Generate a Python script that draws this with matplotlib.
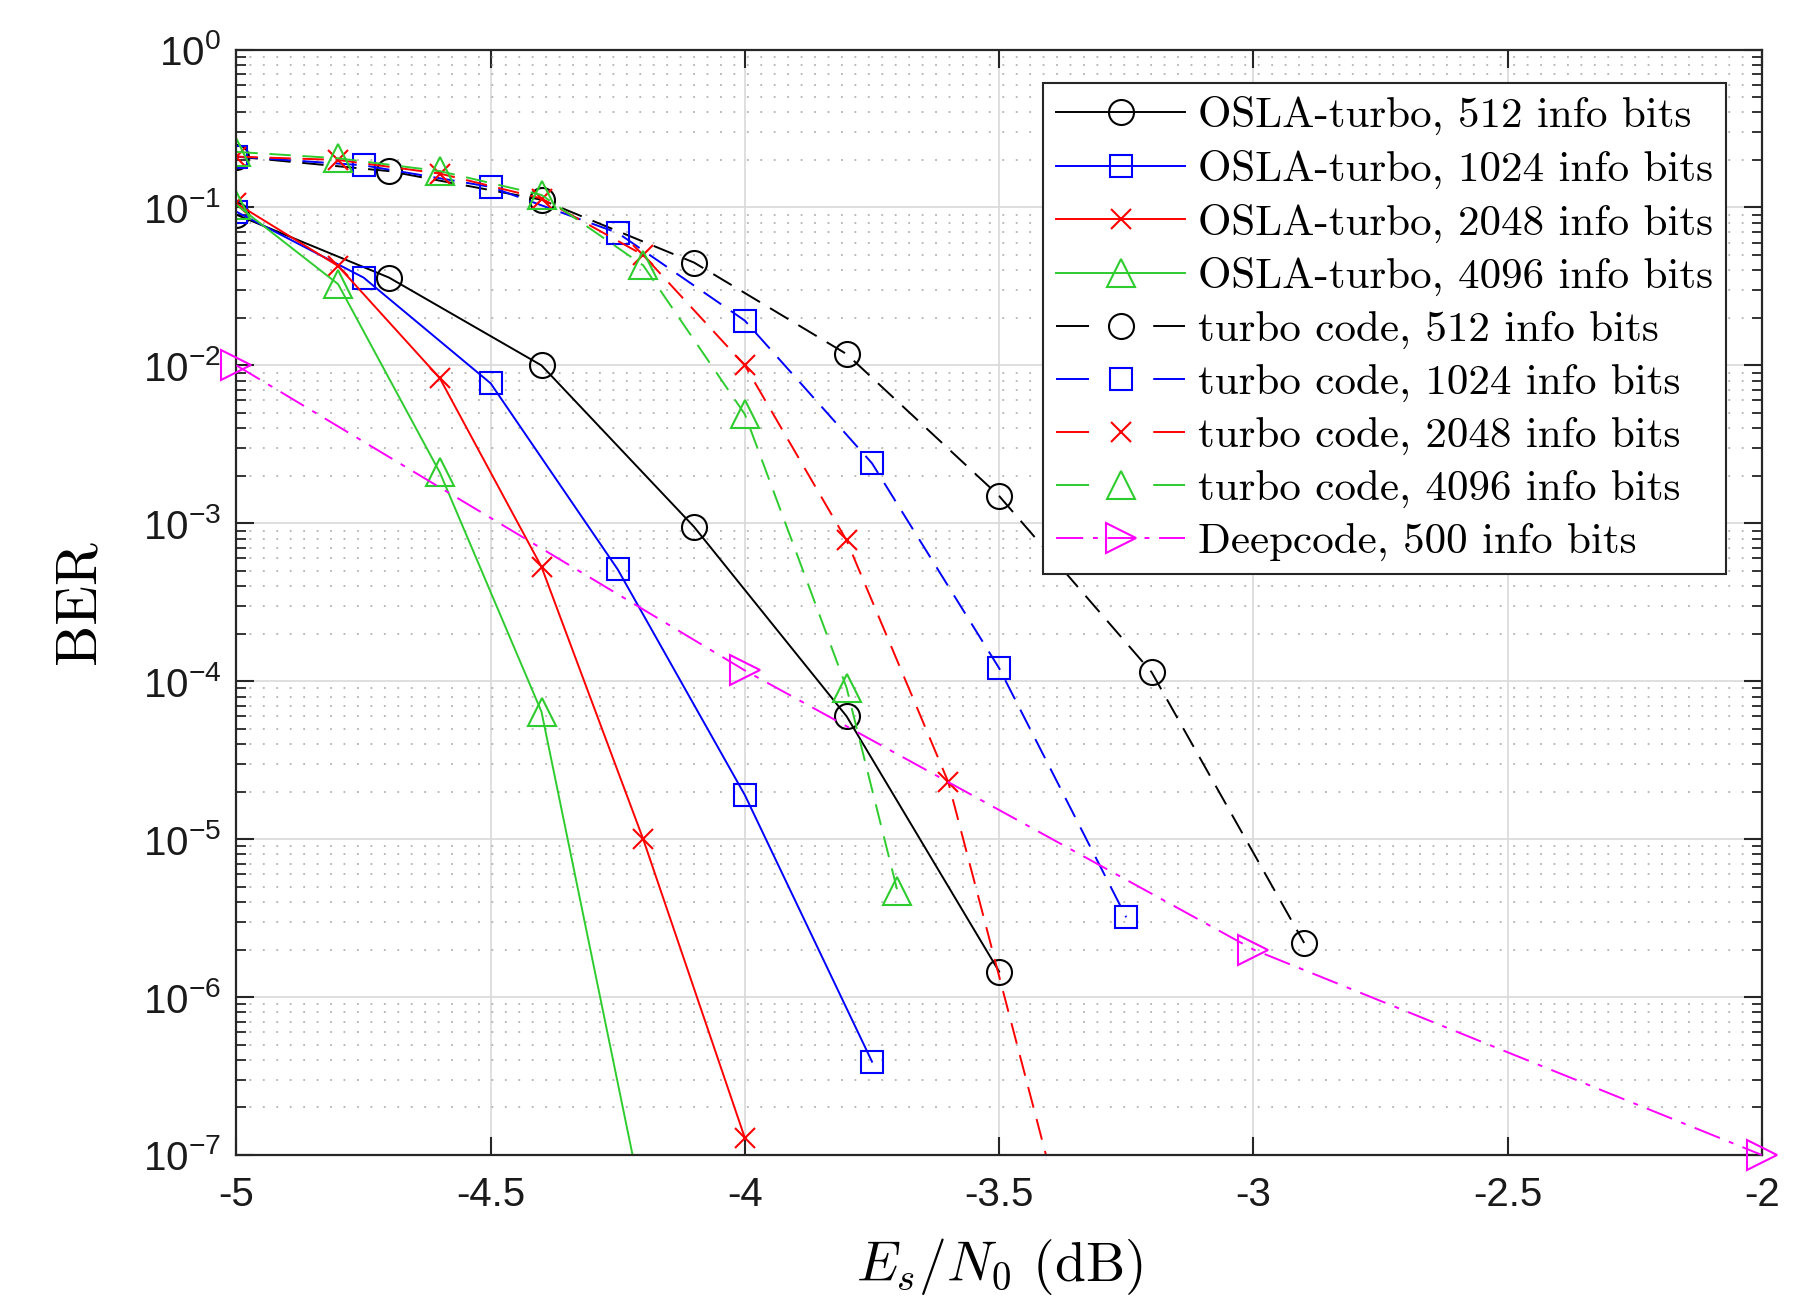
import numpy as np
import matplotlib
matplotlib.use("Agg")
import matplotlib.pyplot as plt
from matplotlib import ticker
from matplotlib.font_manager import FontProperties
from matplotlib.legend_handler import HandlerLine2D

plt.rcParams['axes.unicode_minus'] = False

# ---- data ----
x_osla_512 = [-5, -4.7, -4.4, -4.1, -3.8, -3.5]
ber_osla_512 = [0.09, 0.036, 0.01, 9.5e-4, 6.0e-5, 1.45e-6]
x_osla_1024 = [-5, -4.75, -4.5, -4.25, -4.0, -3.75]
ber_osla_1024 = [0.094, 0.036, 0.0077, 5.1e-4, 1.9e-5, 3.9e-7]
x_osla_2048 = [-5, -4.8, -4.6, -4.4, -4.2, -4.0]
ber_osla_2048 = [0.106, 0.0426, 0.0083, 5.3e-4, 1.0e-5, 1.28e-7]
x_osla_4096 = [-5, -4.8, -4.6, -4.4, -4.2]
ber_osla_4096 = [0.104, 0.0327, 2.1e-3, 6.4e-5, 4.7e-8]

x_turbo_512 = [-5, -4.7, -4.4, -4.1, -3.8, -3.5, -3.2, -2.9]
ber_turbo_512 = [0.21, 0.17, 0.112, 0.0448, 0.0118, 1.49e-3, 1.14e-4, 2.2e-6]
x_turbo_1024 = [-5, -4.75, -4.5, -4.25, -4.0, -3.75, -3.5, -3.25]
ber_turbo_1024 = [0.21, 0.185, 0.135, 0.069, 0.0192, 2.4e-3, 1.21e-4, 3.2e-6]
x_turbo_2048 = [-5, -4.8, -4.6, -4.4, -4.2, -4.0, -3.8, -3.6, -3.4]
ber_turbo_2048 = [0.21, 0.2, 0.164, 0.114, 0.05, 0.01, 7.8e-4, 2.3e-5, 8e-8]
x_turbo_4096 = [-5, -4.8, -4.6, -4.4, -4.2, -4.0, -3.8, -3.7]
ber_turbo_4096 = [0.225, 0.205, 0.17, 0.12, 0.043, 4.9e-3, 9.1e-5, 4.7e-6]

x_deep = [-5, -4, -3, -2]
ber_deep = [0.01, 1.17e-4, 2e-6, 1e-7]

labels = ['OSLA-turbo, 512 info bits', 'OSLA-turbo, 1024 info bits',
          'OSLA-turbo, 2048 info bits', 'OSLA-turbo, 4096 info bits',
          'turbo code, 512 info bits', 'turbo code, 1024 info bits',
          'turbo code, 2048 info bits', 'turbo code, 4096 info bits',
          'Deepcode, 500 info bits']

green = '#2ecc2e'
lw = 1.4
mew = 1.5
dash = (0, (11, 6))
dashdot = (0, (14, 5, 2.5, 5))

fig = plt.figure(figsize=(18.09, 12.98), dpi=100)
ax = fig.add_axes([0.1307, 0.1102, 0.8432, 0.8516])

# OSLA-turbo (solid)
ax.plot(x_osla_512, ber_osla_512, '-', color='k', marker='o', ms=18, mfc='none', mew=mew, lw=lw, label=labels[0])
ax.plot(x_osla_1024, ber_osla_1024, '-', color='b', marker='s', ms=15.5, mfc='none', mew=mew, lw=lw, label=labels[1])
ax.plot(x_osla_2048, ber_osla_2048, '-', color='r', marker='x', ms=14, mew=mew, lw=lw, label=labels[2])
ax.plot(x_osla_4096, ber_osla_4096, '-', color=green, marker='^', ms=20, mfc='none', mew=mew, lw=lw, label=labels[3])
# turbo code (dashed)
l5, = ax.plot(x_turbo_512, ber_turbo_512, ls=dash, color='k', marker='o', ms=18, mfc='none', mew=mew, lw=lw, label=labels[4])
l6, = ax.plot(x_turbo_1024, ber_turbo_1024, ls=dash, color='b', marker='s', ms=15.5, mfc='none', mew=mew, lw=lw, label=labels[5])
l7, = ax.plot(x_turbo_2048, ber_turbo_2048, ls=dash, color='r', marker='x', ms=14, mew=mew, lw=lw, label=labels[6])
l8, = ax.plot(x_turbo_4096, ber_turbo_4096, ls=dash, color=green, marker='^', ms=20, mfc='none', mew=mew, lw=lw, label=labels[7])
# Deepcode
ax.plot(x_deep, ber_deep, ls=dashdot, color='#ff00ff', marker='>', ms=21, mfc='none', mew=mew, lw=lw,
        label=labels[8], clip_on=False, zorder=5)

ax.set_yscale('log')
ax.set_xlim(-5, -2)
ax.set_ylim(1e-7, 1)
ax.set_xticks(np.arange(-5, -1.9, 0.5))
ax.xaxis.set_major_formatter(ticker.FuncFormatter(lambda v, p: '%g' % v))
ax.yaxis.set_major_locator(ticker.LogLocator(base=10, numticks=20))
ax.yaxis.set_minor_locator(ticker.LogLocator(base=10, subs=np.arange(2, 10), numticks=20))
ax.yaxis.set_minor_formatter(ticker.NullFormatter())
ax.yaxis.set_major_formatter(ticker.FuncFormatter(
    lambda v, p: r'$\mathregular{10^{%d}}$' % int(round(np.log10(v)))))

spine_c = '#262626'
for s in ax.spines.values():
    s.set_linewidth(1.6)
    s.set_color(spine_c)
ax.tick_params(which='both', direction='in', top=True, right=True, color=spine_c,
               labelcolor='#1a1a1a', labelfontfamily='Liberation Sans')
ax.tick_params(which='major', length=13, width=1.5, labelsize=29)
ax.tick_params(which='minor', length=7, width=1.3)
ax.tick_params(axis='x', pad=15)
ax.tick_params(axis='y', pad=11)

ax.grid(True, which='major', color='#d9d9d9', lw=1.2, ls='-')
ax.grid(True, which='minor', axis='y', color='#a6a6a6', lw=1.1, ls=(0, (1.2, 7.6)))
ax.set_axisbelow(True)

ax.set_xlabel(r'$E_s/N_0$ (dB)', fontsize=40, family='cmr10', math_fontfamily='cm')
ax.set_ylabel('BER', fontsize=42, family='cmr10')
ax.xaxis.set_label_coords(0.5, -0.073)
ax.yaxis.set_label_coords(-0.086, 0.5)


# legend handles of the dashed curves: one dash each side of the marker
def long_dash(leg_line, orig):
    leg_line.update_from(orig)
    leg_line.set_linestyle((0, (17, 33)))


hmap = {l: HandlerLine2D(update_func=long_dash) for l in (l5, l6, l7, l8)}
leg = ax.legend(loc='upper right', bbox_to_anchor=(0.9766, 0.9698), borderaxespad=0,
                prop=FontProperties(family='cmr10', size=31), handlelength=3.0,
                handletextpad=0.3, labelspacing=0.34, borderpad=0.3, fancybox=False,
                framealpha=1, edgecolor=spine_c, handler_map=hmap)
leg.get_frame().set_linewidth(1.5)

fig.savefig('out.png', dpi=100)
